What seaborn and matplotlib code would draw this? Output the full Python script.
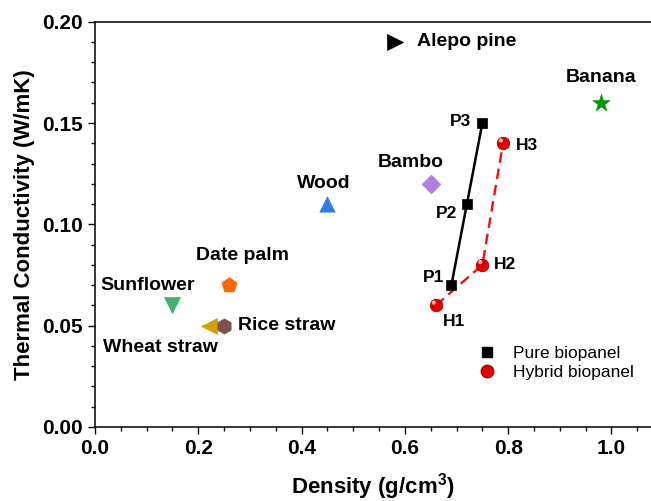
import matplotlib
matplotlib.use("Agg")
import matplotlib.pyplot as plt
from matplotlib.lines import Line2D
from matplotlib.ticker import MultipleLocator
from matplotlib.transforms import offset_copy
import seaborn as sns
import pandas as pd

# ---- data ----
materials = ["Alepo pine", "Banana", "Bambo", "Wood", "Date palm",
             "Sunflower", "Wheat straw", "Rice straw"]
mat_density = [0.58, 0.98, 0.65, 0.45, 0.26, 0.15, 0.22, 0.25]
mat_conductivity = [0.19, 0.16, 0.12, 0.11, 0.07, 0.06, 0.05, 0.05]

pure_labels = ["P1", "P2", "P3"]
pure_density = [0.69, 0.72, 0.75]
pure_conductivity = [0.07, 0.11, 0.15]

hybrid_labels = ["H1", "H2", "H3"]
hybrid_density = [0.66, 0.75, 0.79]
hybrid_conductivity = [0.06, 0.08, 0.14]

legend_labels = ["Pure biopanel", "Hybrid biopanel"]
x_ticks = [0.0, 0.2, 0.4, 0.6, 0.8, 1.0]
y_ticks = [0.00, 0.05, 0.10, 0.15, 0.20]

# ---- styles ----
mat_style = {
    "Alepo pine": dict(marker=">", color="#000000", ms=11.5),
    "Banana": dict(marker="*", color="#009900", ms=13),
    "Bambo": dict(marker="D", color="#B07FE0", ms=9.5),
    "Wood": dict(marker="^", color="#2F7FE0", ms=11),
    "Date palm": dict(marker="p", color="#FF6A00", ms=11.5),
    "Sunflower": dict(marker="v", color="#3CB371", ms=11.5),
    "Wheat straw": dict(marker="<", color="#D4A00A", ms=11.5),
    "Rice straw": dict(marker="h", color="#7E5050", ms=11),
}
# label offsets in pixels (dx, dy, ha)
mat_label = {
    "Alepo pine": (22, 0, "left"),
    "Banana": (0, 25, "center"),
    "Bambo": (-20, 21, "center"),
    "Wood": (-4, 21, "center"),
    "Date palm": (13, 30, "center"),
    "Sunflower": (-25, 20, "center"),
    "Wheat straw": (-48, -22, "center"),
    "Rice straw": (14, 0, "left"),
}
pure_off = [(-7, 8, "right"), (-10, -9, "right"), (-11, 2, "right")]
hyb_off = [(7, -16, "left"), (12, 0, "left"), (13, -2, "left")]

sns.set_style("ticks")
plt.rcParams["font.family"] = ["Liberation Sans", "DejaVu Sans"]
plt.rcParams["mathtext.fontset"] = "custom"
plt.rcParams["mathtext.bf"] = "Liberation Sans:bold"
plt.rcParams["mathtext.rm"] = "Liberation Sans:bold"
for key in ["text.color", "axes.labelcolor", "xtick.color", "ytick.color",
            "axes.edgecolor"]:
    plt.rcParams[key] = "black"

fig = plt.figure(figsize=(6.51, 5.01), dpi=100)
ax = fig.add_axes([95 / 651, 74 / 501, 1 - 95 / 651, (427 - 21.7) / 501])

# lines
pure_df = pd.DataFrame({"d": pure_density, "k": pure_conductivity})
hyb_df = pd.DataFrame({"d": hybrid_density, "k": hybrid_conductivity})
sns.lineplot(data=pure_df, x="d", y="k", sort=False, color="black", lw=1.8,
             ax=ax, zorder=2)
sns.lineplot(data=hyb_df, x="d", y="k", sort=False, color="#EE1111", lw=1.7,
             ax=ax, zorder=2, linestyle=(0, (4.5, 2.5)))

# materials
for name, d, k in zip(materials, mat_density, mat_conductivity):
    st = mat_style[name]
    sns.scatterplot(x=[d], y=[k], marker=st["marker"], color=st["color"],
                    s=st["ms"] ** 2, edgecolor=st["color"], linewidth=0.5,
                    ax=ax, zorder=3)
    dx, dy, ha = mat_label[name]
    ax.annotate(name, (d, k), xytext=(dx, dy), textcoords="offset pixels",
                ha=ha, va="center", fontsize=14, fontweight="bold")

# pure points
sns.scatterplot(x=pure_density, y=pure_conductivity, marker="s", color="black",
                s=6.8 ** 2, edgecolor="black", linewidth=0.5, ax=ax, zorder=4)
for lab, d, k, (dx, dy, ha) in zip(pure_labels, pure_density, pure_conductivity, pure_off):
    ax.annotate(lab, (d, k), xytext=(dx, dy), textcoords="offset pixels",
                ha=ha, va="center", fontsize=12.5, fontweight="bold")

# hybrid points (sphere look)
sns.scatterplot(x=hybrid_density, y=hybrid_conductivity, marker="o",
                color="#DD0000", s=9 ** 2, edgecolor="#AA0000", linewidth=0.6,
                ax=ax, zorder=4)
hl = offset_copy(ax.transData, fig=fig, x=-1.5, y=2.0, units="points")
ax.scatter(hybrid_density, hybrid_conductivity, marker="o", s=3 ** 2,
           color="#FFB0B0", edgecolor="none", transform=hl, zorder=5)
for lab, d, k, (dx, dy, ha) in zip(hybrid_labels, hybrid_density, hybrid_conductivity, hyb_off):
    ax.annotate(lab, (d, k), xytext=(dx, dy), textcoords="offset pixels",
                ha=ha, va="center", fontsize=12.5, fontweight="bold")

# legend
handles = [
    Line2D([], [], ls="none", marker="s", color="black", ms=6.5),
    Line2D([], [], ls="none", marker="o", color="#DD0000", mec="#AA0000", ms=9),
]
ax.legend(handles, legend_labels, loc="upper left", frameon=False,
          bbox_to_anchor=(470 / 651, (501 - 339) / 501),
          bbox_transform=fig.transFigure, fontsize=12.5, handlelength=1.2,
          handletextpad=0.85, labelspacing=0.2, borderaxespad=0)

# axes
ax.set_xlim(0, (651 - 95) / 516.5)
ax.set_ylim(0, 0.20)
ax.set_xticks(x_ticks)
ax.set_yticks(y_ticks)
ax.set_xticklabels([f"{v:.1f}" for v in x_ticks])
ax.set_yticklabels([f"{v:.2f}" for v in y_ticks])
ax.xaxis.set_minor_locator(MultipleLocator(0.05))
ax.yaxis.set_minor_locator(MultipleLocator(0.01))
ax.tick_params(which="major", direction="out", length=5, width=1.0,
               labelsize=15, pad=4, colors="black")
ax.tick_params(which="minor", direction="out", length=2.8, width=1.0,
               colors="black")
for lab in ax.get_xticklabels() + ax.get_yticklabels():
    lab.set_fontweight("bold")
for side in ["left", "bottom", "top"]:
    ax.spines[side].set_visible(True)
    ax.spines[side].set_linewidth(1.1)
    ax.spines[side].set_color("black")
ax.spines["right"].set_visible(False)

ax.set_xlabel(r"Density (g/cm$\mathbf{^3}$)", fontsize=16, fontweight="bold",
              labelpad=9)
ax.set_ylabel("Thermal Conductivity (W/mK)", fontsize=16, fontweight="bold",
              labelpad=5)

fig.savefig("out.png", dpi=100)
